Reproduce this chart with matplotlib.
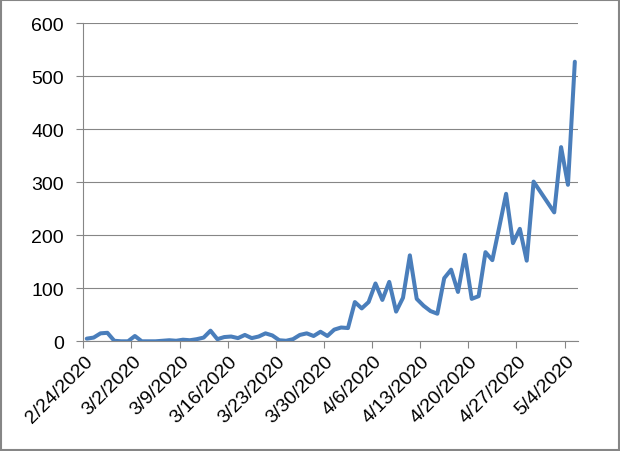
import numpy as np
import pandas as pd
import matplotlib
matplotlib.use("Agg")
import matplotlib.pyplot as plt
import matplotlib.dates as mdates
import matplotlib.transforms as mtransforms
from matplotlib.patches import Rectangle
from matplotlib.ticker import FuncFormatter, MultipleLocator

plt.rcParams['font.family'] = ['Liberation Sans', 'DejaVu Sans']

# --------------------------------------------------
# Data (daily counts, 5/1 and 5/2 missing)
# --------------------------------------------------
dates = pd.date_range("2020-02-24", "2020-05-05", freq="D")
counts = [5, 7, 15, 16, 1, 0, 0, 10, 0, 0, 0, 1, 2, 1,
          3, 2, 4, 7, 20, 4, 8, 9, 6, 12, 6, 9, 15, 11,
          2, 1, 4, 12, 15, 10, 18, 10, 22, 26, 25, 74, 62, 74,
          109, 78, 112, 56, 82, 162, 80, 67, 57, 52, 119, 135, 93, 163,
          80, 85, 168, 153, 215, 278, 185, 212, 152, 301, np.nan, np.nan, 243, 366,
          295, 527]

s = pd.Series(counts, index=dates).dropna()

# --------------------------------------------------
# Plot
# --------------------------------------------------
fig = plt.figure(figsize=(6.2, 4.52), dpi=100)
ax = fig.add_axes([0.1344, 0.2427, 0.7983, 0.7042])

grey = '#868686'

# Excel date axis puts each point in the middle of its day
ax.plot(s.index + pd.Timedelta(hours=12), s.values, color='#4A7EBB', linewidth=2.9,
        solid_joinstyle='round', solid_capstyle='round', zorder=3)

ax.set_xlim(pd.Timestamp("2020-02-24"), pd.Timestamp("2020-05-06"))
ax.set_ylim(0, 600)

ax.yaxis.set_major_locator(MultipleLocator(100))
ax.xaxis.set_major_locator(mdates.WeekdayLocator(byweekday=mdates.MO))
ax.xaxis.set_major_formatter(FuncFormatter(
    lambda v, p: "{d.month}/{d.day}/{d.year}".format(d=mdates.num2date(v))))

ax.grid(axis='y', color=grey, linewidth=0.8)
ax.set_axisbelow(True)

for side in ['top', 'right']:
    ax.spines[side].set_visible(False)
for side in ['left', 'bottom']:
    ax.spines[side].set_color(grey)
    ax.spines[side].set_linewidth(0.8)

ax.tick_params(axis='both', direction='out', length=5, width=0.8, color=grey,
               labelsize=14, labelcolor='black')
ax.tick_params(axis='y', pad=9)
ax.tick_params(axis='x', pad=7)

# rotated date labels, nudged a little right like Excel
shift = mtransforms.ScaledTranslation(5 / 72, 0, fig.dpi_scale_trans)
for lbl in ax.get_xticklabels():
    lbl.set_rotation(45)
    lbl.set_ha('right')
    lbl.set_va('center')
    lbl.set_rotation_mode('anchor')
    lbl.set_transform(lbl.get_transform() + shift)

# chart border
fig.patches.append(Rectangle((0.002, 0.003), 0.996, 0.994, transform=fig.transFigure,
                             fill=False, edgecolor=grey, linewidth=1.5))

fig.savefig("out.png", dpi=100)
